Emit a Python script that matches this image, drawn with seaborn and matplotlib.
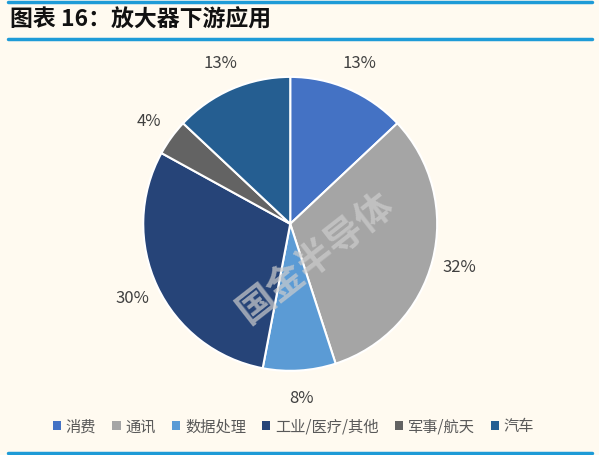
import matplotlib
matplotlib.use('Agg')
import matplotlib.pyplot as plt
import seaborn as sns
from matplotlib.lines import Line2D
from matplotlib.patches import Patch

# data
categories = ['消费', '通讯', '数据处理', '工业/医疗/其他', '军事/航天', '汽车']
shares = [13, 32, 8, 30, 4, 13]
colors = ['#4472C4', '#A5A5A5', '#5B9BD5', '#264478', '#636363', '#255E91']
title = '图表 16：放大器下游应用'

sns.set_theme(style='white')
plt.rcParams['font.family'] = ['Noto Sans CJK SC', 'DejaVu Sans']

bg = '#FFFAF0'
fig = plt.figure(figsize=(5.99, 4.55), dpi=100, facecolor=bg)

# header and footer rules
for y in [0.996, 0.914, 0.005]:
    fig.add_artist(Line2D([0.013, 0.988], [y, y], color='#1E9BD7', lw=2.5,
                          transform=fig.transFigure))
fig.text(0.017, 0.955, title, fontsize=16.5, fontweight='bold',
         color='#111111', va='center', ha='left')

ax = fig.add_axes([0.239, 0.185, 0.491, 0.646])
ax.set_facecolor(bg)
wedges, texts = ax.pie(shares, colors=colors, startangle=90, counterclock=False,
                       labels=[f'{s}%' for s in shares], labeldistance=1.19,
                       wedgeprops=dict(edgecolor='white', linewidth=1.5),
                       textprops=dict(fontsize=12, color='#404040'))
for t in texts:
    t.set_ha('center')
    t.set_va('center')
ax.set_xlim(-1, 1)
ax.set_ylim(-1, 1)
ax.set_aspect('equal')
ax.axis('off')

# faint watermark
fig.text(0.526, 0.433, '国金半导体', fontsize=27, fontweight='bold', color='#CDCDCD',
         alpha=0.7, rotation=38, ha='center', va='center')

handles = [Patch(facecolor=c, edgecolor='none') for c in colors]
fig.legend(handles, categories, loc='center', bbox_to_anchor=(0.49, 0.062),
           ncol=6, frameon=False, fontsize=11, handlelength=0.55, handleheight=0.55,
           handletextpad=0.3, columnspacing=1.05, labelcolor='#595959')

fig.savefig('out.png', dpi=100, facecolor=bg)
